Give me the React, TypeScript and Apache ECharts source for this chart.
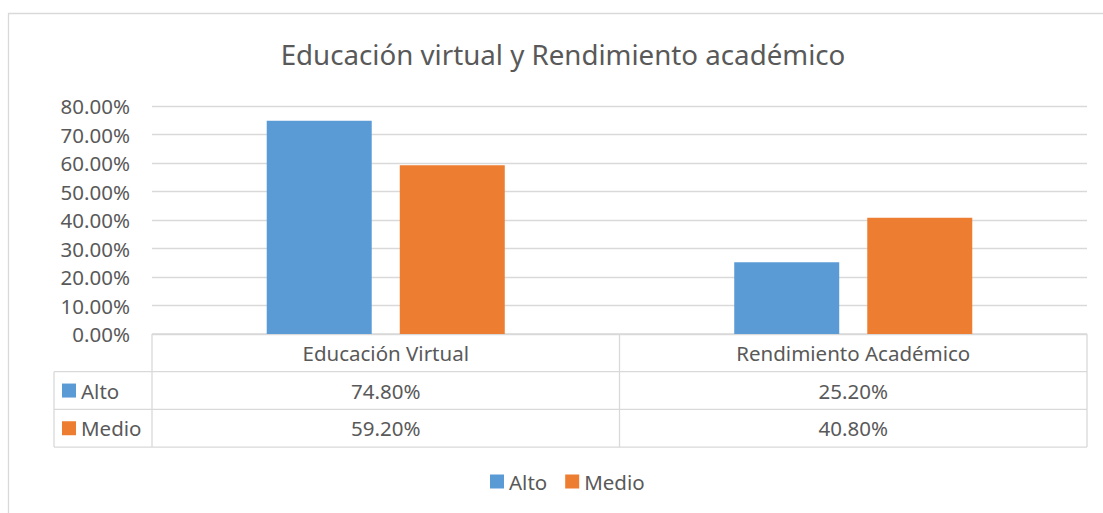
import React, { useEffect, useRef } from "react";
import * as echarts from "echarts";

const title = "Educación virtual y Rendimiento académico";
const categories = ["Educación Virtual", "Rendimiento Académico"];
const seriesNames = ["Alto", "Medio"];
const alto = [0.748, 0.252];
const medio = [0.592, 0.408];
const seriesValues = [alto, medio];
const colors = ["#5B9BD5", "#ED7D31"];
const yMin = 0;
const yMax = 0.8;
const yInterval = 0.1;

const FONT = "Noto Sans";
const TEXT = "#595959";
const LINE = "#D9D9D9";

const W = 1103;
const H = 513;
const GRID_L = 152;
const GRID_R = 1087;
const GRID_T = 106;
const GRID_B = 334;
const ROW_H = 37.7;
const TABLE_L = 54;

const pct = (v: number) => (v * 100).toFixed(2) + "%";

export default function App() {
  const ref = useRef<HTMLDivElement>(null);
  useEffect(() => {
    if (!ref.current) return;
    const chart = echarts.init(ref.current, undefined, { renderer: "svg" });
    const colW = (GRID_R - GRID_L) / categories.length;
    const rowY = (k: number) => GRID_B + k * ROW_H;
    const graphics: any[] = [];
    const ln = (x1: number, y1: number, x2: number, y2: number) => ({
      type: "line",
      shape: { x1, y1, x2, y2 },
      style: { stroke: LINE, lineWidth: 1.3 },
      silent: true,
    });
    // outer border
    graphics.push({
      type: "rect",
      shape: { x: 8.5, y: 13.5, width: 1300, height: 700 },
      style: { fill: "none", stroke: LINE, lineWidth: 1.3 },
      silent: true,
    });
    graphics.push({
      type: "text",
      x: 563,
      y: 54,
      style: {
        text: title,
        fill: TEXT,
        font: `27.7px "${FONT}"`,
        textAlign: "center",
        textVerticalAlign: "middle",
      },
    });
    const nRows = seriesNames.length + 1;
    // horizontal table lines
    graphics.push(ln(GRID_L, rowY(0), GRID_R, rowY(0)));
    for (let k = 1; k <= nRows; k++) {
      graphics.push(ln(TABLE_L, rowY(k), GRID_R, rowY(k)));
    }
    // vertical table lines
    graphics.push(ln(TABLE_L, rowY(1), TABLE_L, rowY(nRows)));
    for (let i = 0; i <= categories.length; i++) {
      const x = GRID_L + i * colW;
      graphics.push(ln(x, rowY(0), x, rowY(nRows)));
    }
    // header texts
    categories.forEach((c, i) => {
      graphics.push({
        type: "text",
        x: GRID_L + (i + 0.5) * colW,
        y: (rowY(0) + rowY(1)) / 2,
        style: {
          text: c,
          fill: TEXT,
          font: `20.5px "${FONT}"`,
          textAlign: "center",
          textVerticalAlign: "middle",
        },
      });
    });
    // series rows
    seriesNames.forEach((s, r) => {
      const cy = (rowY(r + 1) + rowY(r + 2)) / 2;
      graphics.push({
        type: "rect",
        shape: { x: 62, y: cy - 7, width: 14, height: 14 },
        style: { fill: colors[r] },
      });
      graphics.push({
        type: "text",
        x: 81,
        y: cy,
        style: {
          text: s,
          fill: TEXT,
          font: `20.5px "${FONT}"`,
          textAlign: "left",
          textVerticalAlign: "middle",
        },
      });
      seriesValues[r].forEach((v, i) => {
        graphics.push({
          type: "text",
          x: GRID_L + (i + 0.5) * colW,
          y: cy,
          style: {
            text: pct(v),
            fill: TEXT,
            font: `20.5px "${FONT}"`,
            textAlign: "center",
            textVerticalAlign: "middle",
          },
        });
      });
    });

    chart.setOption({
      animation: false,
      textStyle: { fontFamily: FONT, color: TEXT },
      grid: {
        left: GRID_L,
        right: W - GRID_R,
        top: GRID_T,
        bottom: H - GRID_B,
        containLabel: false,
      },
      legend: {
        data: seriesNames,
        left: 485,
        top: 466,
        icon: "rect",
        itemWidth: 14,
        itemHeight: 14,
        itemGap: 18,
        textStyle: { fontFamily: FONT, fontSize: 20.5, color: TEXT },
      },
      xAxis: {
        type: "category",
        data: categories,
        axisLine: { show: false },
        axisTick: { show: false },
        axisLabel: { show: false },
      },
      yAxis: {
        type: "value",
        min: yMin,
        max: yMax,
        interval: yInterval,
        axisLine: { show: false },
        axisTick: { show: false },
        axisLabel: {
          formatter: (v: number) => pct(v),
          fontSize: 20.5,
          fontFamily: FONT,
          color: TEXT,
          margin: 22,
        },
        splitLine: { lineStyle: { color: LINE, width: 1.3 } },
      },
      series: seriesNames.map((name, r) => ({
        name,
        type: "bar",
        data: seriesValues[r],
        barWidth: 105,
        barGap: "26.7%",
        itemStyle: { color: colors[r] },
      })),
      graphic: graphics,
    });
    return () => chart.dispose();
  }, []);
  return (
    <div
      ref={ref}
      style={{ position: "absolute", left: 0, top: 0, width: W, height: H, background: "#fff" }}
    />
  );
}
